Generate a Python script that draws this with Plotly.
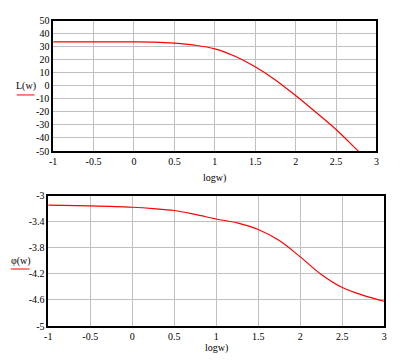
import plotly.graph_objects as go

# ---- data ----
logw_L = [-1, -0.5, 0, 0.25, 0.5, 0.75, 1.0, 1.25, 1.5, 1.75, 2.0, 2.25, 2.5, 2.75, 3.0]
L_vals = [33.6, 33.6, 33.6, 33.4, 32.6, 31.1, 28.3, 22.6, 14.6, 4.5, -7.5, -20.3, -33.5, -48.5, -63.0]

logw_phi = [-1, -0.5, 0, 0.25, 0.5, 0.75, 1.0, 1.25, 1.5, 1.75, 2.0, 2.25, 2.5, 2.75, 3.0]
phi_vals = [-3.148, -3.16, -3.18, -3.20, -3.23, -3.29, -3.36, -3.42, -3.52, -3.69, -3.94, -4.21, -4.41, -4.53, -4.62]

x_tickvals = [-1, -0.5, 0, 0.5, 1, 1.5, 2, 2.5, 3]
x_ticktext = ["-1", "-0.5", "0", "0.5", "1", "1.5", "2", "2.5", "3"]
L_tickvals = [50, 40, 30, 20, 10, 0, -10, -20, -30, -40, -50]
L_ticktext = ["50", "40", "30", "20", "10", "0", "-10", "-20", "-30", "-40", "-50"]
phi_tickvals = [-3, -3.4, -3.8, -4.2, -4.6, -5]
phi_ticktext = ["-3", "-3.4", "-3.8", "-4.2", "-4.6", "-5"]

W, H = 405, 363
FONT = dict(family="Liberation Serif", size=10, color="black")
RED = "#ff0000"

fig = go.Figure()
fig.add_trace(go.Scatter(x=logw_L, y=L_vals, mode="lines", line=dict(color=RED, width=1.2, shape="spline"),
                         xaxis="x", yaxis="y", showlegend=False, hoverinfo="skip"))
fig.add_trace(go.Scatter(x=logw_phi, y=phi_vals, mode="lines", line=dict(color=RED, width=1.2, shape="spline"),
                         xaxis="x2", yaxis="y2", showlegend=False, hoverinfo="skip"))

axis_common = dict(showgrid=True, gridcolor="#c0c0c0", gridwidth=1, showline=True, linecolor="black",
                   linewidth=1.5, mirror=True, ticks="", zeroline=False, tickfont=FONT, fixedrange=True)

fig.update_layout(
    width=W, height=H,
    margin=dict(l=0, r=0, t=0, b=0),
    paper_bgcolor="white", plot_bgcolor="white",
    font=FONT,
    xaxis=dict(domain=[50 / W, 379 / W], range=[-1, 3], tickvals=x_tickvals, ticktext=x_ticktext,
               anchor="y", **axis_common),
    yaxis=dict(domain=[(H - 150) / H, (H - 15) / H], range=[-50, 50], tickvals=L_tickvals,
               ticktext=L_ticktext, anchor="x", **axis_common),
    xaxis2=dict(domain=[45 / W, 387 / W], range=[-1, 3], tickvals=x_tickvals, ticktext=x_ticktext,
                anchor="y2", **axis_common),
    yaxis2=dict(domain=[(H - 331) / H, (H - 196) / H], range=[-5, -3], tickvals=phi_tickvals,
                ticktext=phi_ticktext, anchor="x2", **axis_common),
    annotations=[
        dict(text="logw)", x=214.5 / W, y=(H - 178) / H, xref="paper", yref="paper",
             showarrow=False, font=FONT, xanchor="center", yanchor="middle"),
        dict(text="logw)", x=216 / W, y=(H - 354) / H, xref="paper", yref="paper",
             showarrow=False, font=FONT, xanchor="center", yanchor="middle"),
        dict(text="L(w)", x=22 / W, y=(H - 83) / H, xref="paper", yref="paper",
             showarrow=False, font=FONT, xanchor="center", yanchor="middle"),
        dict(text="φ(w)", x=17 / W, y=(H - 264) / H, xref="paper", yref="paper",
             showarrow=False, font=FONT, xanchor="center", yanchor="middle"),
    ],
    shapes=[
        dict(type="line", xref="paper", yref="paper", x0=13 / W, x1=31 / W,
             y0=(H - 92) / H, y1=(H - 92) / H, line=dict(color=RED, width=1)),
        dict(type="line", xref="paper", yref="paper", x0=7 / W, x1=26 / W,
             y0=(H - 272) / H, y1=(H - 272) / H, line=dict(color=RED, width=1)),
    ],
)

fig.write_html(
    "out.html",
    config={"displayModeBar": False},
    post_script="document.body.style.margin='0';document.body.style.overflow='hidden';",
)
